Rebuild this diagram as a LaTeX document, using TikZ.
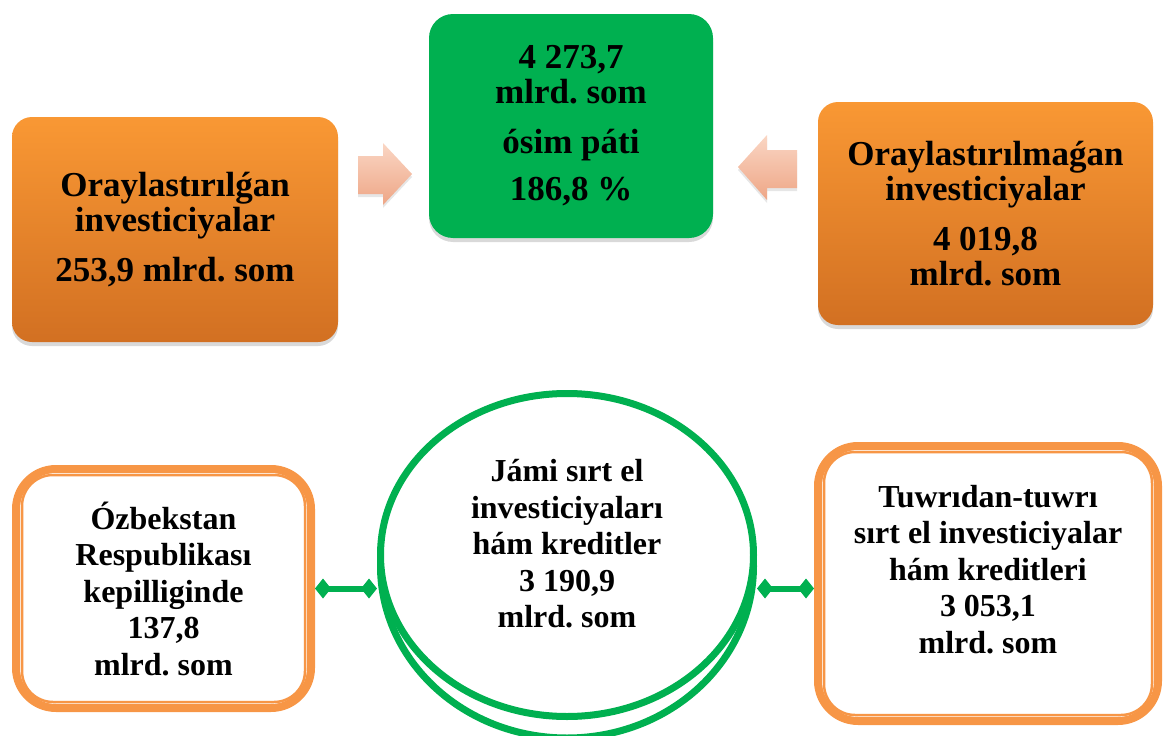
\documentclass[tikz,border=0pt]{standalone}
\usepackage{fontspec}
\setmainfont{Liberation Serif}
\usetikzlibrary{shapes.geometric,shadows,arrows.meta,calc}
\definecolor{orTop}{RGB}{249,152,52}
\definecolor{orBot}{RGB}{210,112,34}
\definecolor{orLine}{RGB}{247,150,70}
\definecolor{grFill}{RGB}{0,176,80}
\definecolor{pcTop}{RGB}{250,214,196}
\definecolor{pcBot}{RGB}{238,166,134}
\frenchspacing
\begin{document}
\begin{tikzpicture}[x=1pt,y=-1pt,line join=round,
  topbox/.style={rounded corners=20pt, inner sep=0pt, align=center,
    font=\bfseries\fontsize{35}{35}\selectfont,
    drop shadow={opacity=0.3, shadow xshift=0pt, shadow yshift=-4pt}},
  orbox/.style={topbox, top color=orTop, bottom color=orBot},
  grbox/.style={topbox, fill=grFill, rounded corners=24pt},
  frbox/.style={draw=orLine, line width=8pt, rounded corners=40pt, fill=white, inner sep=0pt},
  inframe/.style={draw=orLine, line width=2.5pt, rounded corners=31pt},
  btxt/.style={align=center, font=\bfseries\fontsize{32}{36.5}\selectfont},
  ring/.style={draw=grFill, line width=7pt, fill=white},
  link/.style={draw=grFill, line width=6pt, {Diamond[length=16pt,width=20pt]}-{Diamond[length=16pt,width=20pt]}},
  pointer/.style={top color=pcTop, bottom color=pcBot, drop shadow={opacity=0.2, shadow xshift=0pt, shadow yshift=-3pt}}]
\useasboundingbox (0,0) rectangle (1163,736);
% top row
\node[orbox, minimum width=326pt, minimum height=225pt] (centr) at (175,229.5) {Oraylastırılǵan\\investiciyalar\\[15pt]253,9 mlrd. som};
\node[grbox, minimum width=284pt, minimum height=224pt] (total) at (571,126) {4 273,7\\mlrd. som\\[15pt]ósim páti\\[12pt]186,8 \%};
\node[orbox, minimum width=335pt, minimum height=223pt] (decentr) at (985.5,213.5) {Oraylastırılmaǵan\\investiciyalar\\[15pt]4 019,8\\mlrd. som};
\path[pointer] (358,156) -- (383,156) -- (383,143) -- (412,174) -- (383,205) -- (383,194) -- (358,194) -- cycle;
\path[pointer] (797,150) -- (767,150) -- (767,135) -- (738,167) -- (767,200) -- (767,188) -- (797,188) -- cycle;
% bottom row
\draw[ring] (567,566) ellipse (186.5 and 172);
\node[ring, ellipse, minimum width=373pt, minimum height=323pt] (jami) at (567,555) {};
\node[btxt] (jamitext) at ([yshift=11pt]jami.center) {Jámi sırt el\\investiciyaları\\hám kreditler\\3 190,9\\mlrd. som};
\node[frbox, btxt, minimum width=295pt, minimum height=239pt] (guar) at (163.5,588.5) {Ózbekstan\\Respublikası\\kepilliginde\\137,8\\mlrd. som};
\draw[inframe] ([shift={(10pt,-10pt)}]guar.north west) rectangle ([shift={(-10pt,10pt)}]guar.south east);
\node[frbox, minimum width=340pt, minimum height=275pt] (direct) at (988,583.5) {};
\draw[inframe] ([shift={(10pt,-10pt)}]direct.north west) rectangle ([shift={(-10pt,10pt)}]direct.south east);
\node[btxt] (directtext) at ([yshift=14pt]direct.center) {Tuwrıdan-tuwrı\\sırt el investiciyalar\\hám kreditleri\\3 053,1\\mlrd. som};
\draw[link] (guar.east) -- (guar.east -| jami.west);
\draw[link] (jami.east |- guar.east) -- (direct.west |- guar.east);
\end{tikzpicture}
\end{document}
